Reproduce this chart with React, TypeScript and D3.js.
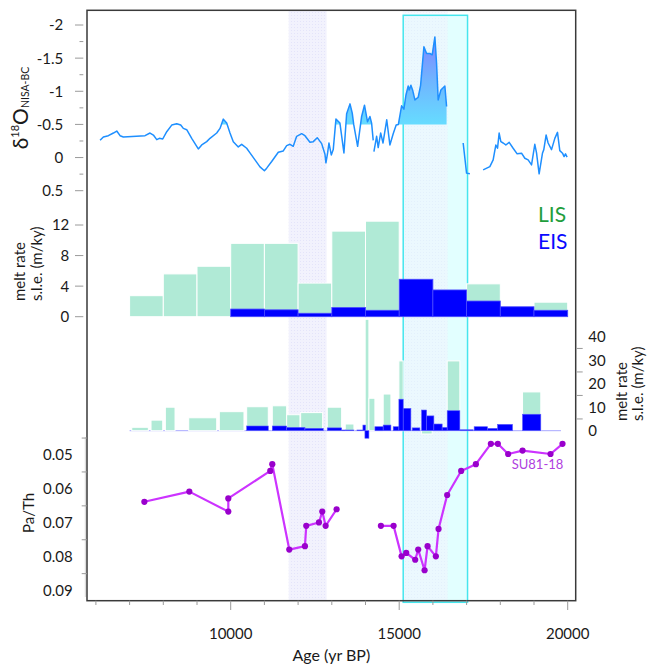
import React from 'react';
import * as d3 from 'd3';

const W = 649;
const H = 665;

// ---------- DATA ----------
// δ18O (NISA-BC) record, segments of [age yr BP, value]
const d18oSegA: [number, number][] = [
  [6124, -0.26], [6222, -0.31], [6370, -0.33], [6519, -0.37], [6619, -0.40], [6717, -0.33], [6815, -0.31],
  [7458, -0.33], [7607, -0.37], [7705, -0.34], [7806, -0.27], [7883, -0.29], [7983, -0.28], [8102, -0.39],
  [8250, -0.49], [8399, -0.51], [8517, -0.49], [8594, -0.44], [8695, -0.42], [8843, -0.29], [8992, -0.17],
  [9039, -0.13], [9140, -0.19], [9288, -0.24], [9386, -0.29], [9585, -0.37], [9683, -0.44], [9781, -0.58],
  [9881, -0.52], [9979, -0.37], [10077, -0.24], [10225, -0.16], [10326, -0.20], [10474, -0.14], [10572, -0.07],
  [10721, 0.035], [10869, 0.14], [11000, 0.2], [11068, 0.16], [11216, 0.06], [11412, -0.08], [11560, -0.10],
  [11661, -0.18], [11759, -0.2], [11856, -0.17], [11957, -0.32], [12106, -0.36], [12203, -0.33], [12352, -0.23],
  [12450, -0.24], [12568, -0.30], [12699, -0.21], [12797, -0.05], [12826, 0.08], [12876, -0.07], [12915, -0.22],
  [12985, -0.04], [13043, -0.12], [13123, -0.58], [13241, -0.52], [13360, -0.07], [13440, -0.66], [13540, -0.81],
  [13607, -0.67], [13650, -0.50], [13766, -0.17], [13885, -0.62], [13970, -0.79], [14060, -0.54], [14131, -0.62],
  [14181, -0.52], [14229, -0.26],
];
const d18oSegB: [number, number][] = [
  [14250, -0.09], [14330, -0.32], [14377, -0.15], [14450, -0.37], [14520, -0.22], [14630, -0.57], [14724, -0.19],
  [14822, -0.36], [14910, -0.49], [14975, -0.50], [15071, -0.78], [15139, -0.73], [15199, -0.94], [15267, -1.08],
  [15297, -1.02], [15347, -1.09], [15397, -1.02], [15466, -0.87], [15564, -0.91], [15635, -1.09], [15733, -1.67],
  [15813, -1.57], [15911, -1.57], [15979, -1.55], [16059, -1.82], [16109, -1.42], [16157, -0.87], [16237, -1.02],
  [16355, -1.08], [16406, -0.77],
];
const d18oSegC: [number, number][] = [[16898, -0.22], [16999, 0.235], [17097, 0.245]];
const d18oSegD: [number, number][] = [
  [17491, 0.185], [17690, 0.136], [17788, 0.035], [17868, -0.19], [17918, -0.14], [17966, -0.37], [18016, -0.24],
  [18085, -0.22], [18164, -0.19], [18263, -0.23], [18381, -0.14], [18500, -0.056], [18630, -0.066], [18728, 0.01],
  [18826, 0.035], [18927, 0.11], [19024, -0.20], [19075, -0.07], [19152, 0.245], [19253, -0.07], [19291, -0.12],
  [19359, -0.34], [19419, -0.22], [19520, -0.12], [19618, -0.29], [19697, -0.38], [19766, -0.105], [19846, -0.066],
  [19893, -0.015], [19935, -0.056], [19982, -0.006],
];
const d18oSegments = [d18oSegA, d18oSegB, d18oSegC, d18oSegD];
const d18oFillThreshold = -0.5;
const d18oTicks = [-2, -1.5, -1, -0.5, 0, 0.5];
const d18oMinorTicks = [-1.75, -1.25, -0.75, -0.25, 0.25];

// 1-kyr melt-rate bins (start year), LIS and EIS (m/ky s.l.e.)
const meltBins1k = [7000, 8000, 9000, 10000, 11000, 12000, 13000, 14000, 15000, 16000, 17000, 18000, 19000];
const lisMelt1k: (number | null)[] = [2.75, 5.6, 6.6, 9.6, 9.6, 4.4, 11.2, 12.5, null, null, 4.3, null, 1.9];
const eisMelt1k: (number | null)[] = [null, null, null, 1.0, 0.9, 0.45, 1.2, 0.84, 4.9, 3.5, 2.05, 1.3, 0.84];
const melt1kTicks = [0, 4, 8, 12];

// fine-resolution melt rates: [start, end, value]
const lisMeltFine: [number, number, number][] = [
  [7064, 7556, 1.45], [7636, 7983, 4.5], [8061, 8348, 10], [8754, 9585, 5.5], [9662, 10394, 8.1],
  [10474, 11115, 10.2], [11234, 11661, 10.6], [11661, 12055, 6.8], [12076, 12728, 7.7], [12865, 13292, 10.0],
  [13399, 13657, 2.85], [13990, 14101, 47.4], [14101, 14279, 13.8], [14525, 14754, 15.6], [14991, 15119, 29.7],
  [15664, 15979, -1.4], [16424, 16800, 29.7], [18660, 19202, 16.5],
];
const eisMeltFine: [number, number, number][] = [
  [10474, 11115, 2.0], [11234, 11661, 2.0], [11661, 12203, 1.4], [12203, 12747, 1.0], [12865, 13292, 1.2],
  [13292, 13399, 0.3], [13399, 13657, 0.3], [13746, 13923, 0.3], [13923, 14003, 2.4], [13983, 14101, -3.2],
  [14279, 14525, 1.7], [14525, 14754, 2.4], [14822, 14991, 1.7], [14991, 15119, 13.4], [15119, 15347, 9.5],
  [15386, 15614, 1.2], [15664, 15813, 8.8], [15813, 16029, 6.3], [16029, 16275, 2.85], [16275, 16424, 1.4],
  [16424, 16800, 8.5], [16800, 17195, 0.4], [17224, 17622, 1.7], [17622, 17918, 1.0], [17918, 18363, 2.7],
  [18660, 19202, 7.0],
];
const meltFineTickLabels = [0, 10, 20, 30, 40];
const meltFineTicks = [5, 15, 25, 35];
const meltFineBaseline = [7000, 19800];

// Pa/Th SU81-18
const paThSeg1: [number, number][] = [
  [7438, 0.0638], [8772, 0.0608], [9929, 0.0667], [9929, 0.0628], [11174, 0.0547], [11234, 0.0527],
  [11738, 0.0779], [12203, 0.0769], [12242, 0.0709], [12619, 0.0699], [12717, 0.0667], [12817, 0.0709],
  [13143, 0.066],
];
const paThSeg2: [number, number][] = [
  [14457, 0.0709], [14834, 0.0709], [15071, 0.0799], [15208, 0.0789], [15475, 0.0809], [15564, 0.0779],
  [15753, 0.084], [15842, 0.0769], [16088, 0.0799], [16168, 0.0718], [16424, 0.0618], [16839, 0.0547],
  [17275, 0.0527], [17720, 0.0467], [17927, 0.0467], [18233, 0.0497], [18660, 0.0487], [19490, 0.0497],
  [19846, 0.0467],
];
const paThTickLabels = [0.05, 0.06, 0.07, 0.08, 0.09];
const paThTicks = [0.045, 0.055, 0.065, 0.075, 0.085];

// x axis
const ageTicks = d3.range(6000, 20001, 1000);
const ageLabels = [10000, 15000, 20000];

// shaded intervals
const youngerDryas = [11720, 12846];
const band2 = [15107, 16436];
const cyanBox = [15119, 17028];

// ---------- SCALES ----------
const x = d3.scaleLinear().domain([10000, 20000]).range([230.7, 567.7]);
const yD = d3.scaleLinear().domain([-2, 0.5]).range([25, 190.7]);
const yM1 = d3.scaleLinear().domain([0, 12]).range([316.7, 225]);
const yM2 = d3.scaleLinear().domain([0, 40]).range([430.7, 336.7]);
const yP = d3.scaleLinear().domain([0.05, 0.09]).range([455, 590.6]);

const FRAME = { l: 87, t: 10.3, r: 575.7, b: 600.7 };
const FONT = "Lato, 'Open Sans', 'DejaVu Sans', sans-serif";
const TXT = '#1a1a1a';
const TICK = '#9a9a9a';
const LIS_C = '#b0ead6';
const EIS_C = '#0000ff';

// split a segment into runs lying beyond the threshold (v < thr), with interpolated crossings
function runsBeyond(seg: [number, number][], thr: number): [number, number][][] {
  const runs: [number, number][][] = [];
  let cur: [number, number][] | null = null;
  for (let i = 0; i < seg.length; i++) {
    const [a, v] = seg[i];
    if (i > 0) {
      const [pa, pv] = seg[i - 1];
      if ((pv < thr) !== (v < thr) && pv !== v) {
        const t = (thr - pv) / (v - pv);
        const cx = pa + t * (a - pa);
        if (cur) {
          cur.push([cx, thr]);
          runs.push(cur);
          cur = null;
        } else {
          cur = [[cx, thr]];
        }
      }
    }
    if (v < thr) {
      if (!cur) cur = [];
      cur.push([a, v]);
    }
  }
  if (cur) {
    cur.push([cur[cur.length - 1][0], thr]);
    runs.push(cur);
  }
  return runs;
}

export default function App() {
  const dLine = d3.line<[number, number]>().x(d => x(d[0])).y(d => yD(d[1]));
  const dArea = d3
    .area<[number, number]>()
    .x(d => x(d[0]))
    .y0(yD(d18oFillThreshold))
    .y1(d => yD(d[1]));
  const pLine = d3.line<[number, number]>().x(d => x(d[0])).y(d => yP(d[1]));

  const fillRuns = d18oSegments.flatMap(seg => runsBeyond(seg, d18oFillThreshold));

  const bar = (s: number, e: number, v: number, y: d3.ScaleLinear<number, number>) => {
    const y0 = y(0);
    const y1 = y(v);
    return { x: x(s), w: x(e) - x(s), y: Math.min(y0, y1), h: Math.abs(y1 - y0) };
  };

  return (
    <svg width={W} height={H} style={{ position: 'absolute', left: 0, top: 0, background: '#fff' }} fontFamily={FONT}>
      <defs>
        <linearGradient id="dgrad" gradientUnits="userSpaceOnUse" x1={0} y1={yD(-1.85)} x2={0} y2={yD(-0.5)}>
          <stop offset="0" stopColor="#8080ff" />
          <stop offset="0.5" stopColor="#70b4ff" />
          <stop offset="1" stopColor="#66dcff" />
        </linearGradient>
        <pattern id="dots" width={3} height={3} patternUnits="userSpaceOnUse">
          <rect width={3} height={3} fill="#f2f2fd" />
          <rect width={1} height={1} fill="#e4e4fa" />
        </pattern>
      </defs>

      {/* shaded intervals */}
      <rect x={x(youngerDryas[0])} y={FRAME.t} width={x(youngerDryas[1]) - x(youngerDryas[0])} height={FRAME.b - FRAME.t} fill="url(#dots)" />
      <rect x={x(cyanBox[0])} y={15.3} width={x(cyanBox[1]) - x(cyanBox[0])} height={602.3 - 15.3} fill="#e2ffff" />
      <rect x={x(band2[0])} y={FRAME.t} width={x(band2[1]) - x(band2[0])} height={FRAME.b - FRAME.t} fill="url(#dots)" opacity={0.55} />
      <rect x={x(cyanBox[0])} y={15.3} width={x(cyanBox[1]) - x(cyanBox[0])} height={602.3 - 15.3} fill="none" stroke="#45e6ee" strokeWidth={1.5} />

      {/* frame */}
      <rect x={FRAME.l} y={FRAME.t} width={FRAME.r - FRAME.l} height={FRAME.b - FRAME.t} fill="none" stroke="#3a3a3a" strokeWidth={1.5} />

      {/* ---- Panel 1: δ18O ---- */}
      {fillRuns.map((run, i) => (
        <path key={'a' + i} d={dArea(run) || ''} fill="url(#dgrad)" />
      ))}
      {d18oSegments.map((seg, i) => (
        <path key={'l' + i} d={dLine(seg) || ''} fill="none" stroke="#1e8fff" strokeWidth={1.5} strokeLinejoin="round" />
      ))}
      {d18oTicks.map(t => (
        <g key={'dt' + t}>
          <line x1={75} x2={83.3} y1={yD(t)} y2={yD(t)} stroke={TICK} strokeWidth={1} />
          <text x={63.3} y={yD(t)} dy="0.36em" textAnchor="end" fontSize={15} fill={TXT}>{t}</text>
        </g>
      ))}
      {d18oMinorTicks.map(t => (
        <line key={'dm' + t} x1={79.5} x2={83.3} y1={yD(t)} y2={yD(t)} stroke={TICK} strokeWidth={1} />
      ))}
      <text transform="translate(28.3,108) rotate(-90)" textAnchor="middle" fill={TXT}>
        <tspan fontSize={21}>δ</tspan>
        <tspan fontSize={11} dy={-9}>18</tspan>
        <tspan fontSize={21} dy={9}>O</tspan>
        <tspan fontSize={10.5} dy={1}>NISA-BC</tspan>
      </text>

      {/* ---- Panel 2: 1-kyr melt rates ---- */}
      {meltBins1k.map((s, i) => {
        const v = lisMelt1k[i];
        if (v == null) return null;
        const b = bar(s, s + 1000, v, yM1);
        return <rect key={'l1' + i} x={b.x} y={b.y} width={b.w} height={b.h} fill={LIS_C} stroke="#fff" strokeWidth={1} />;
      })}
      {meltBins1k.map((s, i) => {
        const v = eisMelt1k[i];
        if (v == null) return null;
        const b = bar(s, s + 1000, v, yM1);
        return <rect key={'e1' + i} x={b.x} y={b.y} width={b.w} height={b.h} fill={EIS_C} stroke="#4a4aff" strokeWidth={0.8} />;
      })}
      {melt1kTicks.map(t => (
        <g key={'m1' + t}>
          <line x1={75} x2={83.3} y1={yM1(t)} y2={yM1(t)} stroke={TICK} strokeWidth={1} />
          <text x={69.3} y={yM1(t)} dy="0.36em" textAnchor="end" fontSize={15} fill={TXT}>{t}</text>
        </g>
      ))}
      <text transform="translate(25,301) rotate(-90)" textAnchor="start" fontSize={15} fill={TXT}>melt rate</text>
      <text transform="translate(42,301) rotate(-90)" textAnchor="start" fontSize={15} fill={TXT}>s.l.e. (m/ky)</text>
      <text x={538} y={221.7} fontSize={21} fill="#1f9e3c">LIS</text>
      <text x={538} y={249.3} fontSize={21} fill="#0a0aff">EIS</text>

      {/* ---- Panel 3: fine melt rates ---- */}
      <line x1={x(meltFineBaseline[0])} x2={x(meltFineBaseline[1])} y1={yM2(0)} y2={yM2(0)} stroke="#a8a8ff" strokeWidth={1} />
      {lisMeltFine.map((d, i) => {
        const b = bar(d[0], d[1], d[2], yM2);
        return <rect key={'l2' + i} x={b.x} y={b.y} width={b.w} height={b.h} fill={LIS_C} stroke="#fff" strokeWidth={1} />;
      })}
      {eisMeltFine.map((d, i) => {
        const b = bar(d[0], d[1], d[2], yM2);
        return <rect key={'e2' + i} x={b.x} y={b.y} width={b.w} height={b.h} fill={EIS_C} stroke="#5a5aff" strokeWidth={0.6} />;
      })}
      {meltFineTicks.map(t => (
        <line key={'m2t' + t} x1={576.7} x2={582.7} y1={yM2(t)} y2={yM2(t)} stroke={TICK} strokeWidth={1} />
      ))}
      {meltFineTickLabels.map(t => (
        <text key={'m2l' + t} x={588.3} y={yM2(t)} dy="0.36em" textAnchor="start" fontSize={15} fill={TXT}>{t}</text>
      ))}
      <text transform="translate(626.7,421) rotate(-90)" textAnchor="start" fontSize={15} fill={TXT}>melt rate</text>
      <text transform="translate(642.5,421) rotate(-90)" textAnchor="start" fontSize={15} fill={TXT}>s.l.e. (m/ky)</text>

      {/* ---- Panel 4: Pa/Th ---- */}
      <line x1={85.3} x2={85.3} y1={437} y2={597} stroke="#d4d4d4" strokeWidth={1} />
      {[paThSeg1, paThSeg2].map((seg, i) => (
        <path key={'p' + i} d={pLine(seg) || ''} fill="none" stroke="#cc33ff" strokeWidth={2.2} strokeLinejoin="round" />
      ))}
      {[...paThSeg1, ...paThSeg2].map((d, i) => (
        <circle key={'pc' + i} cx={x(d[0])} cy={yP(d[1])} r={3.1} fill="#9900cc" />
      ))}
      {paThTicks.map(t => (
        <line key={'ptt' + t} x1={81.7} x2={87} y1={yP(t)} y2={yP(t)} stroke={TICK} strokeWidth={1} />
      ))}
      {paThTickLabels.map(t => (
        <text key={'ptl' + t} x={72.7} y={yP(t)} dy="0.36em" textAnchor="end" fontSize={15} fill={TXT}>{t.toFixed(2)}</text>
      ))}
      <text transform="translate(34,513) rotate(-90)" textAnchor="middle" fontSize={15} fill={TXT}>Pa/Th</text>
      <text x={511.7} y={469} fontSize={13} fill="#b040e0">SU81-18</text>

      {/* ---- x axis ---- */}
      {ageTicks.map(t => (
        <line key={'xt' + t} x1={x(t)} x2={x(t)} y1={FRAME.b} y2={ageLabels.includes(t) ? 610 : 605} stroke={TICK} strokeWidth={1} />
      ))}
      {ageLabels.map(t => (
        <text key={'xl' + t} x={x(t)} y={639} textAnchor="middle" fontSize={15} fill={TXT}>{t}</text>
      ))}
      <text x={(FRAME.l + FRAME.r) / 2} y={661} textAnchor="middle" fontSize={16} fill={TXT}>Age (yr BP)</text>
    </svg>
  );
}
